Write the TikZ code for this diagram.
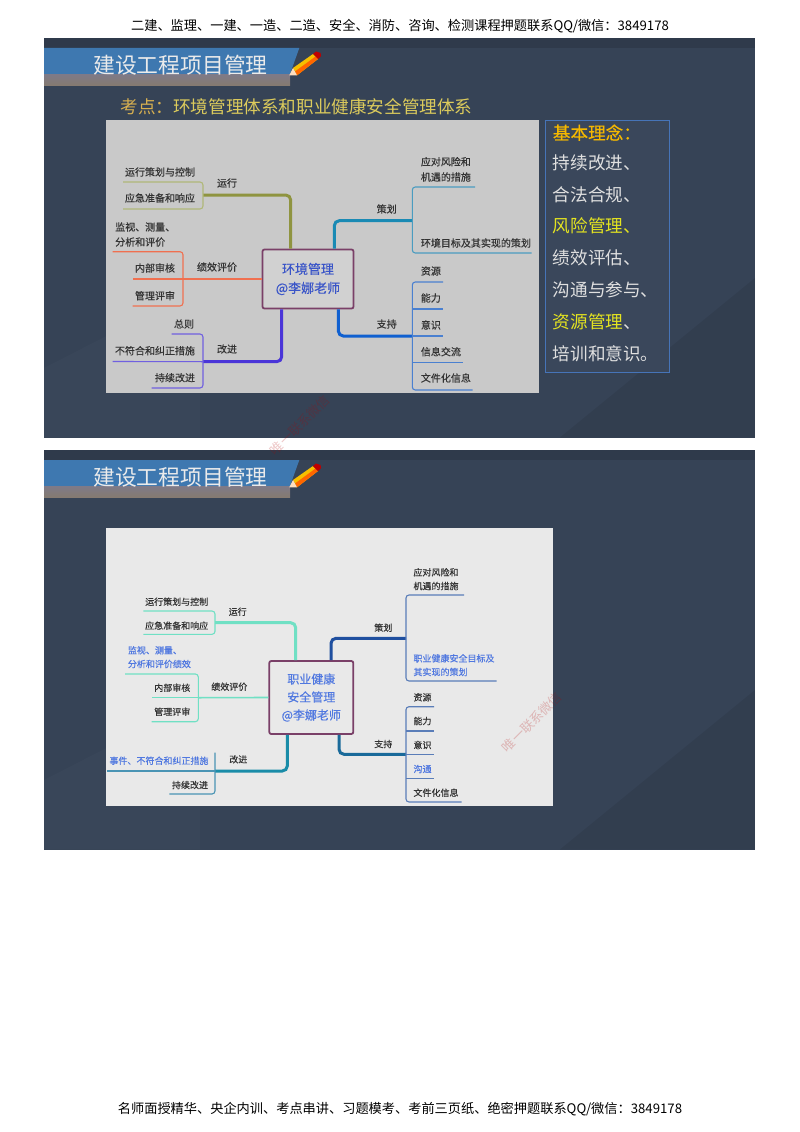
\documentclass[tikz,border=0pt]{standalone}
\usepackage{fontspec}
\setmainfont{Noto Sans CJK SC}
\newfontfamily\heavyfont[FakeBold=0.35]{Noto Sans CJK SC}
\definecolor{slidebg}{HTML}{364356}
\definecolor{boxbg}{HTML}{3A475B}
\definecolor{bannerblue}{HTML}{3E78B0}
\definecolor{bannergrey}{HTML}{7E7A88}
\definecolor{bannerbrown}{HTML}{857A70}
\definecolor{panelA}{HTML}{C9C9C9}
\definecolor{panelB}{HTML}{E9E9E9}
\definecolor{hubline}{HTML}{7A4068}
\definecolor{hubtext}{HTML}{3A55C8}
\definecolor{linktext}{HTML}{5078E0}
\definecolor{olive}{HTML}{8F9440}
\definecolor{olivethin}{HTML}{B0B878}
\definecolor{coral}{HTML}{F07050}
\definecolor{violetline}{HTML}{4A35D8}
\definecolor{violetthin}{HTML}{7060E0}
\definecolor{tealA}{HTML}{1A8AB4}
\definecolor{tealthin}{HTML}{4A9CC0}
\definecolor{blueA}{HTML}{1060D0}
\definecolor{bluethin}{HTML}{4A80D0}
\definecolor{mint}{HTML}{70E0C4}
\definecolor{tealB}{HTML}{1A8CA8}
\definecolor{tealBthin}{HTML}{4A94B4}
\definecolor{navyB}{HTML}{1F4F9F}
\definecolor{navythin}{HTML}{5A7DB8}
\definecolor{blueB}{HTML}{1A6A9A}
\definecolor{titlegold}{HTML}{DCCB5C}
\definecolor{titleorange}{HTML}{D8B050}
\definecolor{ideagold}{HTML}{F5B800}
\definecolor{ideayellow}{HTML}{E4E420}
\tikzstyle{page} = [font=\fontsize{13.2}{13.2}\selectfont,text=black]
\tikzstyle{hub} = [draw=hubline,line width=1.8pt,rounded corners=2pt,inner sep=0pt,align=center,text=hubtext]
\tikzstyle{lab} = [inner sep=0pt,text=black!80]
\tikzstyle{bough} = [line width=3pt,rounded corners=5pt]
\tikzstyle{twig} = [line width=1.1pt,rounded corners=3pt]
\tikzstyle{idea} = [anchor=west,inner sep=0pt,text=white!88!black,font=\fontsize{17.6}{17.6}\selectfont]
\tikzstyle{stamp} = [inner sep=0pt,text=red!70!black,opacity=.22,rotate=45,font=\fontsize{13}{13}\selectfont]
\begin{document}
\begin{tikzpicture}[x=1pt,y=-1pt]
\useasboundingbox (0,0) rectangle (800,1132);
\fill[white] (0,0) rectangle (800,1132);
\node[page] (headline) at (400,26) {二建、监理、一建、一造、二造、安全、消防、咨询、检测课程押题联系QQ/微信：3849178};
\node[page] (footline) at (400,1109) {名师面授精华、央企内训、考点串讲、习题模考、考前三页纸、绝密押题联系QQ/微信：3849178};
% the two slides, banner and pencil in each
\foreach \top in {38,450}{
  \begin{scope}[shift={(0,\top)}]
    \fill[slidebg] (44,0) rectangle (755,399.5);
    \fill[white,opacity=.02] (44,330) -- (200,250) -- (200,399.5) -- (44,399.5) -- cycle;
    \fill[black,opacity=.07] (560,399.5) -- (755,240) -- (755,399.5) -- cycle;
    \fill[black,opacity=.12] (44,0) rectangle (755,10);
    \fill[bannerblue] (44,10) -- (299.3,10) -- (290,36) -- (44,36) -- cycle;
    \shade[top color=bannergrey,bottom color=bannerbrown] (44,36) rectangle (290,47.5);
    \node[inner sep=0pt,text=white!92!black,font=\fontsize{21.8}{21.8}\selectfont] at (180.5,27) {建设工程项目管理};
    \fill[ideagold!90!yellow] (293,30) -- (313,16) -- (318,21) -- (297,37.3) -- cycle;
    \fill[orange!80!red] (295,33.5) -- (315.5,18.5) -- (318,21) -- (297,37.3) -- cycle;
    \fill[red!75!black] (313,16) -- (316,13.5) -- (320.5,15) -- (321,18) -- (318,21) -- cycle;
    \fill[orange!25!white] (289.3,37.3) -- (293,30) -- (297,37.3) -- cycle;
  \end{scope}
}
\node[inner sep=0pt,text=titlegold,font=\fontsize{17.6}{17.6}\selectfont] (examtitle) at (296.5,107) {{\color{titleorange}考点：}环境管理体系和职业健康安全管理体系};
% first mind map
\fill[panelA] (106,120) rectangle (539,393);
\node[hub,fill=panelA!85!white,minimum width=91pt,minimum height=59pt,font=\heavyfont\fontsize{13}{16}\selectfont] (envhub) at (308,279) {环境管理\\[3pt]@李娜老师};
\coordinate (runfork) at (203,195);
\coordinate (evalfork) at (183,279);
\coordinate (fixfork) at (203,361.7);
\coordinate (planfork) at (412.3,220.7);
\coordinate (helpfork) at (412.3,336);
\draw[bough,olive] (envhub.north -| 290.7,0) |- (runfork);
\draw[bough,coral,line width=1.6pt] (envhub.west) -- (evalfork);
\draw[bough,violetline] (envhub.south -| 281.7,0) |- (fixfork);
\draw[bough,tealA] (envhub.north -| 334.3,0) |- (planfork);
\draw[bough,blueA] (envhub.south -| 338.3,0) |- (helpfork);
\draw[twig,olivethin] (123,182) -- (203,182) -- (203,209) -- (123,209);
\draw[twig,coral] (112.7,251.7) -- (183,251.7) -- (183,306) -- (132.7,306);
\draw[twig,coral] (evalfork) -- (132.7,279);
\draw[twig,violetthin] (171.7,334) -- (203,334) -- (203,388) -- (151.7,388);
\draw[twig,violetthin] (fixfork) -- (112.7,361.5);
\draw[twig,tealthin] (475,187) -- (412.3,187) -- (412.3,253) -- (531.7,253);
\draw[twig,bluethin] (443,282) -- (412.3,282) -- (412.3,390) -- (472.7,390);
\draw[twig,bluethin] (412.3,309) -- (443,309);
\draw[twig,bluethin] (helpfork) -- (443,336);
\draw[twig,bluethin] (412.3,362.7) -- (462.7,362.7);
\begin{scope}[every node/.style={lab,font=\heavyfont\fontsize{10}{10}\selectfont}]
  \node (runa) at (160,172) {运行策划与控制};
  \node (runb) at (160,198) {应急准备和响应};
  \node (runl) at (227,183) {运行};
  \node[anchor=west] (evala) at (115,227) {监视、测量、};
  \node[anchor=west] (evalb) at (115,242) {分析和评价};
  \node (evalc) at (155,268) {内部审核};
  \node (evald) at (155,295.7) {管理评审};
  \node (evall) at (217,267) {绩效评价};
  \node (fixa) at (184,324) {总则};
  \node (fixb) at (155,350.7) {不符合和纠正措施};
  \node (fixc) at (175,377.7) {持续改进};
  \node (fixl) at (227,349) {改进};
  \node (planl) at (386.7,209) {策划};
  \node[anchor=west] (plana) at (420.7,161.7) {应对风险和};
  \node[anchor=west] (planb) at (420.7,177) {机遇的措施};
  \node[anchor=west] (planc) at (420.7,243) {环境目标及其实现的策划};
  \node (helpl) at (386.7,324) {支持};
  \node[anchor=west] (helpa) at (420.7,271) {资源};
  \node[anchor=west] (helpb) at (420.7,298) {能力};
  \node[anchor=west] (helpc) at (420.7,325) {意识};
  \node[anchor=west] (helpd) at (420.7,351.7) {信息交流};
  \node[anchor=west] (helpe) at (420.7,378) {文件化信息};
\end{scope}
% right hand list
\draw[bluethin!80!slidebg,line width=.8pt,fill=boxbg] (545,120) rectangle (669.3,372.3);
\node[idea,text=ideagold] (idea0) at (552.7,132.7) {\heavyfont 基本理念：};
\node[idea] (idea1) at (552.7,163) {持续改进、};
\node[idea] (idea2) at (552.7,195) {合法合规、};
\node[idea,text=ideayellow] (idea3) at (552.7,226) {风险管理、};
\node[idea] (idea4) at (552.7,258) {绩效评估、};
\node[idea] (idea5) at (552.7,290) {沟通与参与、};
\node[idea] (idea6) at (552.7,322) {{\color{ideayellow}资源管理}、};
\node[idea] (idea7) at (552.7,354) {培训和意识。};
% second mind map
\fill[panelB] (106,527.7) rectangle (553.3,805.7);
\node[hub,fill=panelB,minimum width=84pt,minimum height=73pt,font=\heavyfont\fontsize{12}{18}\selectfont,text=linktext] (jobhub) at (311.3,697.5) {职业健康\\安全管理\\@李娜老师};
\coordinate (jrunfork) at (215,622.7);
\coordinate (jevalfork) at (198.3,697.7);
\coordinate (jfixfork) at (215,771);
\coordinate (jplanfork) at (406,638.3);
\coordinate (jhelpfork) at (406,754.3);
\draw[bough,mint] (jobhub.north -| 295.7,0) |- (jrunfork);
\draw[bough,mint,line width=1.6pt] (jobhub.west) -- (jevalfork);
\draw[bough,tealB] (jobhub.south -| 287.3,0) |- (jfixfork);
\draw[bough,navyB] (jobhub.north -| 331,0) |- (jplanfork);
\draw[bough,blueB] (jobhub.south -| 339,0) |- (jhelpfork);
\draw[twig,mint] (143.3,611) -- (215,611) -- (215,634.3) -- (143.3,634.3);
\draw[twig,mint] (125,674) -- (198.3,674) -- (198.3,721.7) -- (151.7,721.7);
\draw[twig,mint] (jevalfork) -- (151.7,697.7);
\draw[twig,tealBthin] (215,752.7) -- (215,794) -- (169.3,794);
\draw[twig,tealBthin] (jfixfork) -- (106.7,771);
\draw[twig,navythin] (464,595) -- (406,595) -- (406,681) -- (496.7,681);
\draw[twig,navythin] (434,706.7) -- (406,706.7) -- (406,802) -- (461.7,802);
\draw[twig,navythin] (406,731) -- (434,731);
\draw[twig,navythin] (jhelpfork) -- (434,754.3);
\draw[twig,navythin] (406,778.3) -- (434,778.3);
\begin{scope}[every node/.style={lab,font=\heavyfont\fontsize{9}{9}\selectfont}]
  \node (jruna) at (176.7,601.7) {运行策划与控制};
  \node (jrunb) at (176.7,625.7) {应急准备和响应};
  \node (jrunl) at (237.7,611.7) {运行};
  \node[anchor=west,text=linktext] (jevala) at (127.7,650.3) {监视、测量、};
  \node[anchor=west,text=linktext] (jevalb) at (127.7,664) {分析和评价绩效};
  \node (jevalc) at (172.3,687.7) {内部审核};
  \node (jevald) at (172.3,711.7) {管理评审};
  \node (jevall) at (229.3,686.7) {绩效评价};
  \node[text=linktext] (jfixa) at (159,760.7) {事件、不符合和纠正措施};
  \node (jfixb) at (190,785) {持续改进};
  \node (jfixl) at (238.3,759.3) {改进};
  \node (jplanl) at (383.3,627.7) {策划};
  \node[anchor=west] (jplana) at (413.3,572.3) {应对风险和};
  \node[anchor=west] (jplanb) at (413.3,586) {机遇的措施};
  \node[anchor=west,text=linktext] (jplanc) at (413.3,658.3) {职业健康安全目标及};
  \node[anchor=west,text=linktext] (jpland) at (413.3,672) {其实现的策划};
  \node (jhelpl) at (383.3,744) {支持};
  \node[anchor=west] (jhelpa) at (413.3,697.3) {资源};
  \node[anchor=west] (jhelpb) at (413.3,721) {能力};
  \node[anchor=west] (jhelpc) at (413.3,745) {意识};
  \node[anchor=west,text=linktext] (jhelpd) at (413.3,769) {沟通};
  \node[anchor=west] (jhelpe) at (413.3,792.7) {文件化信息};
\end{scope}
% faint stamps across the slides
\node[stamp] (stampa) at (300,425) {唯一联系微信};
\node[stamp] (stampb) at (532,722) {唯一联系微信};
\end{tikzpicture}
\end{document}
